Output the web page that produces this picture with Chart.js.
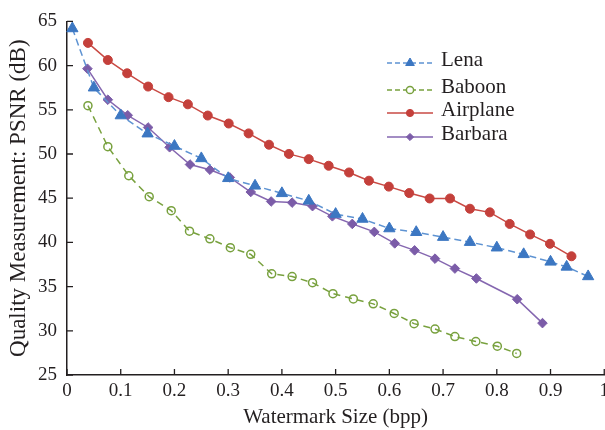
<!DOCTYPE html>
<html>
<head>
<meta charset="utf-8">
<script src="https://cdn.jsdelivr.net/npm/chart.js@4.4.0/dist/chart.umd.min.js"></script>
<style>
html, body { margin: 0; padding: 0; background: #fff; overflow: hidden; }
#wrap { position: relative; width: 614px; height: 430px; }
</style>
</head>
<body>
<div id="wrap"><canvas id="psnrChart"></canvas></div>
<script>
// values
const lenaX = [0.01, 0.05, 0.10, 0.15, 0.20, 0.25, 0.30, 0.35, 0.40, 0.45, 0.50, 0.55, 0.60, 0.65, 0.70, 0.75, 0.80, 0.85, 0.90, 0.93, 0.97]
const lenaY = [64.2, 57.5, 54.35, 52.3, 50.9, 49.5, 47.25, 46.4, 45.55, 44.7, 43.2, 42.65, 41.57, 41.15, 40.6, 40.03, 39.4, 38.65, 37.8, 37.23, 36.15]

const baboonX = [0.039, 0.076, 0.115, 0.153, 0.194, 0.228, 0.266, 0.304, 0.342, 0.381, 0.419, 0.457, 0.495, 0.533, 0.570, 0.609, 0.646, 0.685, 0.722, 0.761, 0.801, 0.837]
const baboonY = [55.47, 50.83, 47.54, 45.17, 43.59, 41.27, 40.4, 39.4, 38.65, 36.45, 36.14, 35.44, 34.2, 33.61, 33.05, 31.96, 30.81, 30.2, 29.35, 28.79, 28.26, 27.44]

const airplaneX = [0.039, 0.076, 0.112, 0.151, 0.189, 0.225, 0.262, 0.301, 0.338, 0.376, 0.413, 0.450, 0.487, 0.525, 0.562, 0.599, 0.637, 0.675, 0.713, 0.750, 0.787, 0.824, 0.862, 0.899, 0.939]
const airplaneY = [62.57, 60.63, 59.13, 57.63, 56.43, 55.62, 54.35, 53.45, 52.33, 51.05, 50.01, 49.42, 48.67, 47.91, 46.98, 46.31, 45.58, 44.97, 44.97, 43.81, 43.4, 42.09, 40.9, 39.84, 38.43]

const barbaraX = [0.038, 0.076, 0.113, 0.151, 0.191, 0.229, 0.266, 0.303, 0.342, 0.380, 0.419, 0.457, 0.494, 0.531, 0.572, 0.610, 0.647, 0.685, 0.722, 0.762, 0.838, 0.885]
const barbaraY = [59.65, 56.14, 54.38, 53.0, 50.76, 48.81, 48.22, 47.35, 45.7, 44.63, 44.5, 44.1, 42.95, 42.09, 41.19, 39.89, 39.1, 38.16, 37.04, 35.92, 33.57, 30.87]

const seriesNames = ['Lena', 'Baboon', 'Airplane', 'Barbara']
const yTicks = [25, 30, 35, 40, 45, 50, 55, 60, 65]
const xTickLabels = ['0', '0.1', '0.2', '0.3', '0.4', '0.5', '0.6', '0.7', '0.8', '0.9', '1']

const toPoints = (xs, ys) => xs.map((x, i) => ({ x: x, y: ys[i] }))

const ink = '#231f20'
const serif = '"Liberation Serif", "Times New Roman", serif'

// small legend sitting inside the plot
const legendRows = [63, 90, 113, 137]
const insideLegend = {
    id: 'insideLegend',
    afterDatasetsDraw(chart) {
        const ctx = chart.ctx
        chart.data.datasets.forEach((ds, i) => {
            const y = legendRows[i]
            ctx.save()
            ctx.strokeStyle = ds.borderColor
            ctx.lineWidth = 1.5
            ctx.setLineDash(ds.borderDash ? [5, 3] : [])
            ctx.beginPath()
            ctx.moveTo(387, y)
            ctx.lineTo(433, y)
            ctx.stroke()
            ctx.setLineDash([])
            ctx.fillStyle = ds.pointBackgroundColor === 'transparent' ? '#fff' : ds.pointBackgroundColor
            ctx.strokeStyle = ds.pointBorderColor
            ctx.lineWidth = ds.pointBorderWidth
            Chart.helpers.drawPoint(ctx, {
                pointStyle: ds.pointStyle,
                radius: ds.pointStyle === 'triangle' ? 5 : 3.6,
                rotation: 0,
                borderWidth: ds.pointBorderWidth
            }, 410, y)
            ctx.fillStyle = ink
            ctx.font = '21px ' + serif
            ctx.textBaseline = 'middle'
            ctx.textAlign = 'left'
            ctx.fillText(ds.label, 441, y - 3)
            ctx.restore()
        })
    }
}

// tick marks pointing into the plot
const innerTicks = {
    id: 'innerTicks',
    afterDraw(chart) {
        const ctx = chart.ctx
        const xs = chart.scales.x
        const ys = chart.scales.y
        ctx.save()
        ctx.strokeStyle = ink
        ctx.lineWidth = 1.3
        ctx.beginPath()
        xs.ticks.forEach((t, i) => {
            const px = xs.getPixelForTick(i)
            ctx.moveTo(px, xs.top)
            ctx.lineTo(px, xs.top - 6)
        })
        ys.ticks.forEach((t, i) => {
            const py = ys.getPixelForTick(i)
            ctx.moveTo(ys.right, py)
            ctx.lineTo(ys.right + 6, py)
        })
        ctx.stroke()
        ctx.restore()
    }
}

const ctx = document.getElementById('psnrChart').getContext('2d')
const psnrChart = new Chart(ctx, {
    type: 'line',
    data: {
        datasets: [{
            label: seriesNames[0],
            data: toPoints(lenaX, lenaY),
            borderColor: '#5e93d2',
            borderWidth: 1.5,
            borderDash: [7, 4],
            pointStyle: 'triangle',
            pointRadius: 6.5,
            pointBackgroundColor: '#3c77c2',
            pointBorderColor: '#3c77c2',
            pointBorderWidth: 1
        }, {
            label: seriesNames[1],
            data: toPoints(baboonX, baboonY),
            borderColor: '#78a13e',
            borderWidth: 1.5,
            borderDash: [7, 5],
            pointStyle: 'circle',
            pointRadius: 4,
            pointBackgroundColor: 'transparent',
            pointBorderColor: '#78a13e',
            pointBorderWidth: 1.5
        }, {
            label: seriesNames[2],
            data: toPoints(airplaneX, airplaneY),
            borderColor: '#c94a44',
            borderWidth: 1.5,
            pointStyle: 'circle',
            pointRadius: 4.5,
            pointBackgroundColor: '#c4403b',
            pointBorderColor: '#c4403b',
            pointBorderWidth: 1
        }, {
            label: seriesNames[3],
            data: toPoints(barbaraX, barbaraY),
            borderColor: '#8567b0',
            borderWidth: 1.5,
            pointStyle: 'rectRot',
            pointRadius: 4.8,
            pointBackgroundColor: '#7b5ca8',
            pointBorderColor: '#7b5ca8',
            pointBorderWidth: 1
        }]
    },
    options: {
        responsive: true,
        maintainAspectRatio: false,
        animation: false,
        clip: false,
        layout: { padding: { top: 18, right: 8, left: 0, bottom: 0 } },
        plugins: {
            legend: { display: false },
            tooltip: { enabled: false }
        },
        scales: {
            x: {
                type: 'linear',
                min: 0,
                max: 1,
                afterFit(scale) { scale.height = 55 },
                afterBuildTicks(scale) {
                    scale.ticks = xTickLabels.map((l, i) => ({ value: i / 10 }))
                },
                ticks: {
                    color: ink,
                    font: { family: serif, size: 19 },
                    padding: 5,
                    maxRotation: 0,
                    autoSkip: false,
                    callback: (v, i) => xTickLabels[i]
                },
                grid: { display: true, drawOnChartArea: false, drawTicks: false },
                border: { display: true, color: ink, width: 1.5 },
                title: {
                    display: true,
                    text: 'Watermark Size (bpp)',
                    color: ink,
                    font: { family: serif, size: 21 },
                    padding: { top: 0, bottom: 0 }
                }
            },
            y: {
                min: 25,
                max: 65,
                afterFit(scale) { scale.width = 67 },
                afterBuildTicks(scale) {
                    scale.ticks = yTicks.map(v => ({ value: v }))
                },
                ticks: {
                    color: ink,
                    font: { family: serif, size: 19 },
                    padding: 10
                },
                grid: { display: true, drawOnChartArea: false, drawTicks: false },
                border: { display: true, color: ink, width: 1.5 },
                title: {
                    display: true,
                    text: 'Quality Measurement: PSNR (dB)',
                    color: ink,
                    font: { family: serif, size: 23 },
                    padding: { top: 5, bottom: 0 }
                }
            }
        }
    },
    plugins: [insideLegend, innerTicks]
})
</script>
</body>
</html>
